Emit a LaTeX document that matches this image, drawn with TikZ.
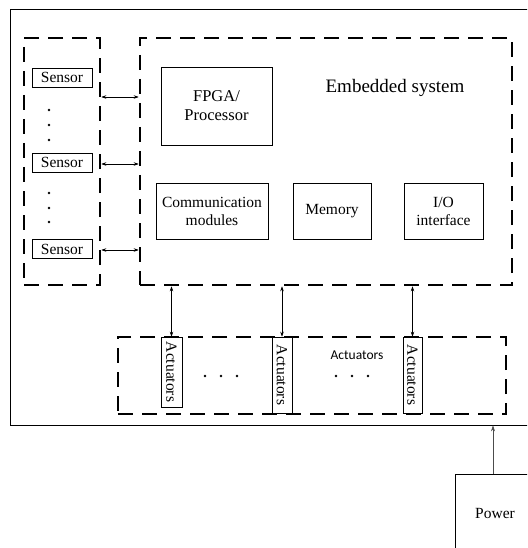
\documentclass[tikz,border=0pt]{standalone}
\usepackage{fontspec}
\setmainfont{Liberation Serif}
\newfontfamily\labelsans{Carlito}
\usetikzlibrary{arrows.meta}

\begin{document}
\begin{tikzpicture}[x=1pt,y=-1pt,
  frame/.style={draw, line width=0.8pt, inner sep=0pt},
  group/.style={draw, line width=2.6pt, dash pattern=on 15pt off 9pt, inner sep=0pt},
  block/.style={draw, line width=0.6pt, inner sep=0pt, align=center,
    font=\fontsize{15.5}{18}\selectfont},
  actbox/.style={block, rotate=-90},
  link/.style={line width=0.6pt, {Stealth[length=5pt,width=3.5pt]}-{Stealth[length=5pt,width=3.5pt]}},
  feed/.style={line width=0.6pt, draw=black!70, -{Stealth[length=6pt,width=4pt]}},
  dot/.style={circle, fill=black, inner sep=0pt, minimum size=2.8pt},
  ]
\useasboundingbox (0,0) rectangle (527,548);
\clip (0,0) rectangle (527,548);

% outer system frame and power supply
\node[frame, minimum width=530pt, minimum height=416pt] (outer) at (275,217) {};
\node[block, minimum width=80pt, minimum height=78pt] (pow) at (495,513) {Power};

% dashed groups
\node[group, minimum width=76pt, minimum height=247pt] (sgrp) at (62,161.5) {};
\node[group, minimum width=372pt, minimum height=247pt] (egrp) at (326,161.5) {};
\node[group, minimum width=388pt, minimum height=77pt] (agrp) at (312,375.5) {};

% sensors
\node[block, minimum width=60pt, minimum height=19pt] (s1) at (62,77.5) {Sensor};
\node[block, minimum width=60pt, minimum height=19pt] (s2) at (62,162.5) {Sensor};
\node[block, minimum width=60pt, minimum height=19pt] (s3) at (62,249) {Sensor};
\foreach \yy [count=\i] in {110,125,140,193,208,222}
  \node[dot] (sd\i) at (49,\yy) {};

% embedded system blocks
\node[font=\fontsize{19}{22}\selectfont] (etitle) at (395,88) {Embedded system};
\node[block, font=\fontsize{16.5}{19}\selectfont, minimum width=111pt, minimum height=78pt] (cpu) at (216.5,106) {FPGA/\\Processor};
\node[block, minimum width=112pt, minimum height=56pt] (comm) at (212,211) {Communication\\modules};
\node[block, minimum width=78pt, minimum height=56pt] (mem) at (332,211) {Memory};
\node[block, minimum width=79pt, minimum height=56pt] (io) at (443.5,211) {I/O\\interface};

% actuators
\node[actbox, minimum width=70pt, minimum height=21pt] (a1) at (171.5,372) {Actuators};
\node[actbox, minimum width=76pt, minimum height=20pt] (a2) at (282,375) {Actuators};
\node[actbox, minimum width=76pt, minimum height=19pt] (a3) at (412.5,375) {Actuators};
\node[font=\labelsans\fontsize{13.5}{16}\selectfont] (alabel) at (357,355) {Actuators};
\foreach \xx [count=\i] in {205,221,237,336,352,368}
  \node[dot] (ad\i) at (\xx,376) {};

% sensor links
\foreach \s/\yy in {s1/97, s2/164, s3/250} {
  \coordinate (\s l) at (sgrp.east |- 0,\yy);
  \coordinate (\s r) at (egrp.west |- 0,\yy);
  \draw[link] (\s l) -- (\s r);
}

% actuator links
\foreach \a in {a1,a2,a3}
  \draw[link] (\a.west |- egrp.south) -- (\a.west);

% power feed
\coordinate (pin) at ([xshift=-2pt]pow.north);
\draw[feed] (pin) -- (pin |- outer.south);
\end{tikzpicture}
\end{document}
